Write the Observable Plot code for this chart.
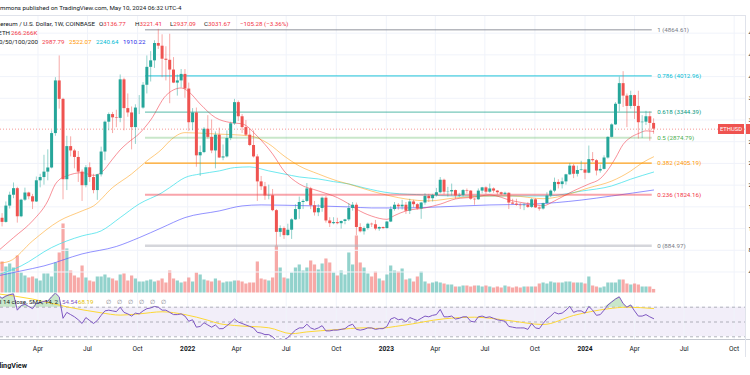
<!DOCTYPE html>
<html><head><meta charset="utf-8">
<script src="https://cdn.jsdelivr.net/npm/d3@7"></script>
<script src="https://cdn.jsdelivr.net/npm/@observablehq/plot@0.6"></script>
<style>
html,body{margin:0;padding:0;background:#fff;}
#wrap{position:relative;width:750px;height:375px;overflow:hidden;background:#fff;font-family:Roboto,"Liberation Sans",sans-serif;color:#131722;}
#wrap svg{position:absolute;left:0;background:transparent;}
.t{position:absolute;white-space:nowrap;font-size:6.2px;line-height:8px;height:8px;}
.ln{position:absolute;height:0;}
</style></head><body><div id="wrap"></div>
<script>
// ---------------- data ----------------
const firstWeek = "2021-01-18", afterLastWeek = "2024-05-07";
const opens = [1232,1390,1314,1614,1814,1935,1417,1723,1855,1786,1690,2080,2140,2240,2316,2950,3920,3580,2100,2710,
2630,2510,2240,1990,2320,2140,1900,2190,2610,3160,3300,3240,3230,3940,3410,3330,3060,3420,3420,3840,
4170,4290,4610,4560,4320,4300,4120,3880,3920,4040,3770,3150,3330,2540,2600,3030,2880,2630,2920,2500,
2520,2860,3130,3520,3260,3060,2920,2730,2520,2060,1970,1800,1805,1530,1130,1200,1070,1170,1360,1550,
1680,1700,1930,1620,1490,1570,1760,1340,1290,1310,1290,1330,1360,1570,1630,1220,1140,1200,1280,1270,
1190,1220,1200,1320,1550,1630,1600,1630,1520,1690,1640,1560,1670,1790,1750,1810,1860,2090,1870,1875,
1900,1800,1810,1900,1890,1740,1730,1890,1950,1870,1930,1890,1860,1830,1850,1670,1650,1630,1620,1630,
1590,1730,1580,1560,1660,1800,1890,2050,2010,2060,2190,2350,2200,2270,2280,2220,2470,2450,2260,2290,
2500,2880,3110,3490,3870,3640,3450,3650,3450,3150,3160,3260,3136.77];
const highs = [1470,1475,1690,1870,2040,1960,1740,1945,1870,1830,2150,2200,2550,2650,3000,3980,4380,3600,2900,2890,
2660,2620,2280,2360,2410,2200,2200,2700,3180,3330,3340,3380,4030,3970,3680,3440,3480,3650,3890,4380,
4460,4660,4870,4770,4550,4780,4350,4030,4130,4130,3880,3410,3420,2720,3060,3280,3200,2980,3050,2740,
3000,3160,3580,3550,3300,3190,3030,3000,2560,2160,2050,2000,1920,1550,1250,1230,1280,1380,1640,1780,
1730,2030,1960,1700,1640,1780,1790,1400,1400,1390,1340,1370,1660,1680,1670,1290,1230,1300,1300,1350,
1230,1230,1330,1600,1680,1660,1720,1680,1740,1720,1660,1680,1840,1830,1830,1940,2140,2110,1960,2020,
1910,1850,1920,1930,1900,1750,1930,1960,1970,2020,1950,1900,1870,1870,1860,1740,1740,1660,1660,1680,
1750,1750,1600,1670,1860,1910,2130,2100,2130,2200,2400,2380,2350,2440,2400,2720,2600,2470,2370,2540,
2890,3130,3520,3990,4090,3680,3730,3660,3730,3280,3360,3350,3221.41];
const lows = [1040,1230,1300,1560,1750,1300,1400,1700,1730,1550,1680,1950,2000,2080,2300,2900,3400,1730,1900,2520,
2300,2050,1700,1950,2050,1840,1720,2150,2450,3000,2950,3060,3150,3000,3250,2650,2750,3300,3400,3680,
3900,4150,4500,3980,3920,3500,3870,3640,3790,3600,2990,3000,2330,2160,2580,2850,2580,2300,2490,2450,
2500,2820,3100,3170,2950,2900,2710,2500,1700,1900,1720,1730,1510,880,1040,1000,1060,1000,1350,1370,
1550,1680,1550,1430,1420,1500,1300,1220,1270,1270,1190,1270,1330,1520,1070,1120,1080,1170,1220,1160,
1150,1180,1190,1310,1520,1540,1540,1460,1460,1580,1540,1370,1630,1680,1690,1780,1840,1820,1780,1800,
1740,1770,1780,1840,1720,1630,1720,1840,1830,1850,1850,1820,1810,1810,1550,1640,1610,1550,1530,1570,
1570,1570,1520,1540,1650,1770,1860,1930,1930,2000,2180,2120,2150,2260,2100,2210,2420,2170,2220,2280,
2480,2870,3100,3350,3430,3060,3400,3210,2850,2860,3100,2810,2937.09];
const closes = [1390,1314,1614,1814,1935,1417,1723,1855,1786,1690,2080,2140,2240,2316,2950,3920,3580,2100,2710,2630,
2510,2240,1990,2320,2140,1900,2190,2610,3160,3300,3240,3230,3940,3410,3330,3060,3420,3420,3840,4170,
4290,4610,4560,4320,4300,4120,3880,3920,4040,3770,3150,3330,2540,2600,3030,2880,2630,2920,2500,2520,
2860,3130,3520,3260,3060,2920,2730,2520,2060,1970,1800,1805,1530,1130,1200,1070,1170,1360,1550,1680,
1700,1930,1620,1490,1570,1760,1340,1290,1310,1290,1330,1360,1570,1630,1220,1140,1200,1280,1270,1190,
1220,1200,1320,1550,1630,1600,1630,1520,1690,1640,1560,1670,1790,1750,1810,1860,2090,1870,1875,1900,
1800,1810,1900,1890,1740,1730,1890,1950,1870,1930,1890,1860,1830,1850,1670,1650,1630,1620,1630,1590,
1730,1580,1560,1660,1800,1890,2050,2010,2060,2190,2350,2200,2270,2280,2220,2470,2450,2260,2290,2500,
2880,3110,3490,3870,3640,3450,3650,3450,3150,3160,3260,3136.95,3031.67];
// weekly volume, thousands of ETH
const volumes = [2250,2325,1950,2175,1875,2775,1500,1275,1125,1200,
1050,900,1425,1425,1200,2250,3000,5175,3300,1650,
1275,1125,2025,1125,900,825,1200,1200,1350,1125,
1050,900,1350,1425,900,1275,1050,825,825,900,
975,825,900,1050,750,1650,1050,900,750,825,
1125,825,1500,1350,975,900,825,1050,900,750,
825,825,900,900,825,675,750,750,2325,1050,
975,900,1125,3525,1875,1125,1050,1500,1875,2100,
1650,1875,2400,2100,1725,2175,2550,2250,1500,1275,
1650,1350,3000,2100,4275,2250,1875,1425,1200,1575,
1050,900,1350,2025,1650,1575,1800,975,1050,825,
1200,1575,825,675,750,825,750,675,600,600,
450,450,525,525,450,525,525,450,525,450,
375,450,375,525,450,375,450,375,450,450,
450,450,675,750,675,825,750,750,750,825,
825,750,750,750,675,1200,525,450,375,450,
750,750,750,975,975,675,600,675,600,450,
450,450,266.266];
const rsi = [86,82,85,87,88,66,72,74,71,68,
75,76,78,78,84,89,84,55,63,60,
57,53,48,56,52,48,52,59,65,66,
65,64,70,63,61,58,62,61,65,68,
69,71,70,66,66,63,60,60,61,58,
51,53,43,44,49,46,43,46,41,41,
45,49,54,50,48,46,44,42,36,35,
33,33,30,25,27,26,29,34,39,42,
42,47,42,40,42,45,38,38,39,39,
40,41,45,47,40,39,40,42,42,40,
41,41,44,54,56,53,54,50,56,54,
52,55,58,57,59,60,67,57,57,58,
54,55,57,57,51,50,57,58,56,57,
55,53,52,51,44,43,42,42,42,40,
48,42,41,48,54,58,63,61,62,66,
71,63,65,65,62,71,66,59,60,66,
73,77,81,84,75,70,73,65,58,58,
60,57,54.54];
const rsiSmaAt = [0,9,18,27,32,37,43,49,55,58,62,71,77,81,88,97,99,106,117,125,134,143,151,160,165,172];
const rsiSma = [88,81,70.5,62.4,59.3,61,63.8,60,52.4,47.8,45.3,42.2,34.2,36.6,39.4,42.2,41.2,45.3,54.3,56.5,52,46.6,58.8,67.8,70,68.19];
const ma20At = [0,4,9,13,15,16,18,22,25,27,30,32,34,37,40,44,48,50,53,57,61,64,68,72,75,79,84,89,92,94,98,102,104,107,112,116,120,125,129,135,140,143,146,151,155,158,160,162,164,166,168,170,172];
const ma20 = [790,1033,1341,1709,2019,2100,2170,2230,2180,2230,2480,2650,2780,2950,3200,3650,3790,3720,3494,3244,3152,3130,2900,2575,2262,2022,1894,1770,1654,1560,1430,1370,1440,1525,1580,1650,1745,1780,1820,1710,1650,1620,1710,1895,2020,2120,2280,2500,2750,2880,2950,3000,2987.79];
const ma50At = [0,3,9,16,22,25,30,35,39,43,45,49,57,66,71,75,79,84,89,92,98,103,107,113,120,129,135,143,148,155,161,166,169,172];
const ma50 = [560,600,972,1341,1525,1617,1955,2206,2446,2666,2814,2967,2943,2907,2760,2538,2354,2206,2077,2020,1890,1800,1745,1710,1765,1800,1800,1750,1800,1950,2075,2260,2410,2522.07];
const ma100At = [0,6,14,18,22,27,32,37,43,45,49,53,58,62,66,71,75,79,84,88,92,96,103,112,120,129,144,153,161,166,172];
const ma100 = [350,512,850,972,1065,1157,1402,1654,1862,1955,2139,2206,2262,2323,2336,2262,2206,2151,2114,2065,2022,1950,1855,1820,1800,1800,1800,1890,1985,2110,2240.64];
const ma200At = [0,6,12,22,31,37,43,49,58,64,69,75,84,92,98,107,116,129,140,153,161,172];
const ma200 = [330,420,512,733,870,1033,1218,1402,1525,1617,1636,1630,1617,1599,1580,1580,1600,1635,1650,1725,1800,1910.22];
const fibRatios = [0,0.236,0.382,0.5,0.618,0.786,1];
const fibPrices = [884.97,1824.16,2405.19,2874.79,3344.39,4012.96,4864.61];
const fibFrom = "2021-10-15T12:00Z", fibTo = "2024-05-03T12:00Z";
const priceTicks = [400,800,1200,1600,2000,2400,2800,3200,3600,4000,4400,4800];
const tickDates = ["2021-04-01","2021-07-01","2021-10-01","2022-01-01","2022-04-01","2022-07-01","2022-10-01","2023-01-01","2023-04-01","2023-07-01","2023-10-01","2024-01-01","2024-04-01","2024-07-01","2024-10-01"];
const tickLabels = ["Apr","Jul","Oct","2022","Apr","Jul","Oct","2023","Apr","Jul","Oct","2024","Apr","Jul","Oct"];
const xDomain = ["2021-01-22T03:00Z","2024-10-31T01:00Z"];

// ---------------- build ----------------
const UP = "#26a69a", DOWN = "#ef5350";
const weeks = d3.utcMonday.range(new Date(firstWeek), new Date(afterLastWeek));
const candles = weeks.map((date, i) => ({date, open: opens[i], high: highs[i], low: lows[i], close: closes[i], volume: volumes[i], rsi: rsi[i]}));
const col = d => d.close >= d.open ? UP : DOWN;
const ticks = tickDates.map((d, i) => ({date: new Date(d), label: tickLabels[i]}));
const series = (at, vals) => at.map((i, k) => ({date: weeks[i], value: vals[k]}));
const fib = fibRatios.map((r, i) => ({ratio: r, price: fibPrices[i]}));
const fibStroke = ["#b2b5be","#f23645","#ff9800","#4caf50","#089981","#00bcd4","#787b86"];
const fibOpacity = [0.55,0.45,0.9,0.3,0.55,0.7,0.55];
const fibWidth = [2.5,2,1.3,2,1.3,1.3,1.5];
const fibLabel = ["#787b86","#f23645","#ff9800","#4caf50","#089981","#00bcd4","#787b86"];

const wrap = document.getElementById("wrap");
const xScale = {type: "utc", domain: xDomain.map(d => new Date(d)), range: [0, 750], axis: null};
const base = {width: 750, marginLeft: 0, marginRight: 5, marginBottom: 0, style: {background: "transparent", fontFamily: "Roboto, sans-serif"}, color: {type: "identity"}};
function place(svg, top) { svg.style.top = top + "px"; wrap.appendChild(svg); return svg; }

// volume pane + vertical grid
const volPlot = Plot.plot({...base, height: 293, marginTop: 15,
  x: xScale, y: {domain: [0, 5000], range: [292.5, 225.8], axis: null},
  marks: [
    Plot.ruleX(ticks, {x: "date", stroke: "#f0f3fa"}),
    Plot.ruleX(candles, {x: "date", y1: 0, y2: "volume", stroke: col, strokeOpacity: 0.5, strokeWidth: 3.2})
  ]});
place(volPlot, 0);

// price pane
const fmt = d3.format(".2f");
const pricePlot = Plot.plot({...base, height: 293, marginTop: 15,
  x: xScale, y: {domain: [0, 5000], range: [293.2, 21.8], axis: null},
  marks: [
    Plot.ruleY(priceTicks, {stroke: "#f0f3fa"}),
    Plot.line(series(ma200At, ma200), {x: "date", y: "value", stroke: "#4a4aff", strokeOpacity: 0.6, strokeWidth: 1, curve: "monotone-x"}),
    Plot.line(series(ma100At, ma100), {x: "date", y: "value", stroke: "#3fe0ea", strokeOpacity: 0.75, strokeWidth: 1, curve: "monotone-x"}),
    Plot.line(series(ma50At, ma50), {x: "date", y: "value", stroke: "#ff9800", strokeOpacity: 0.5, strokeWidth: 1, curve: "monotone-x"}),
    Plot.line(series(ma20At, ma20), {x: "date", y: "value", stroke: "#f23645", strokeOpacity: 0.55, strokeWidth: 1, curve: "monotone-x"}),
    ...fib.map((f, i) => Plot.ruleY([f], {y: "price", x1: new Date(fibFrom), x2: new Date(fibTo), stroke: fibStroke[i], strokeOpacity: fibOpacity[i], strokeWidth: fibWidth[i]})),
    ...fib.map((f, i) => Plot.text([f], {x: new Date(fibTo), y: "price", text: d => `${d.ratio} (${fmt(d.price)})`, textAnchor: "start", dx: 5, fill: fibLabel[i], fontSize: 6.2})),
    Plot.ruleY([candles[candles.length - 1]], {y: "close", stroke: DOWN, strokeOpacity: 0.6, strokeDasharray: "1,2"}),
    Plot.ruleX(candles, {x: "date", y1: "low", y2: "high", stroke: col, strokeOpacity: 0.55, strokeWidth: 0.9}),
    Plot.ruleX(candles, {x: "date", y1: "open", y2: "close", stroke: col, strokeWidth: 3}),
    Plot.text(priceTicks, {y: d => d, text: d => fmt(d), frameAnchor: "right", textAnchor: "start", dx: 3, fill: "#131722", fontSize: 6.2})
  ]});
place(pricePlot, 0);

// RSI pane
const rsiPlot = Plot.plot({...base, height: 47, marginTop: 0,
  x: xScale, y: {domain: [30, 70], range: [43.3, 13.7], axis: null},
  marks: [
    Plot.rect([0], {y1: 30, y2: 70, fill: "#7e57c2", fillOpacity: 0.1}),
    Plot.ruleX(ticks, {x: "date", stroke: "#f0f3fa"}),
    Plot.ruleY([30, 50, 70], {stroke: "#787b86", strokeOpacity: 0.55, strokeDasharray: "3,3"}),
    Plot.areaY(candles, {x: "date", y1: 70, y2: d => Math.max(70, d.rsi), fill: "#4caf50", fillOpacity: 0.3}),
    Plot.line(series(rsiSmaAt, rsiSma), {x: "date", y: "value", stroke: "#fdd835", strokeWidth: 1, curve: "monotone-x"}),
    Plot.line(candles, {x: "date", y: "rsi", stroke: "#7e57c2", strokeWidth: 1})
  ]});
place(rsiPlot, 293);

// time axis
const axisPlot = Plot.plot({...base, height: 18, marginTop: 0,
  x: xScale, y: {axis: null},
  marks: [
    Plot.text(ticks.filter(t => t.label.length < 4), {x: "date", text: "label", frameAnchor: "middle", fontSize: 6.6, fill: "#131722"}),
    Plot.text(ticks.filter(t => t.label.length === 4), {x: "date", text: "label", frameAnchor: "middle", fontSize: 6.6, fontWeight: "bold", fill: "#131722"})
  ]});
place(axisPlot, 339);

// ---------------- decorations & texts ----------------
function line(x, y, w, h, css) { const d = document.createElement("div"); d.className = "ln"; Object.assign(d.style, {left: x + "px", top: y + "px", width: w + "px", height: h + "px"}, css); wrap.appendChild(d); }
line(0, 15, 745, 0, {borderTop: "1px solid #e0e3eb"});
line(0, 339, 750, 0, {borderTop: "1px solid #c4c7cf"});
line(745, 15, 0, 342, {borderLeft: "1px solid #e0e3eb"});
function txt(x, yc, html, css = {}, alignRight = false) {
  const d = document.createElement("div"); d.className = "t";
  if (alignRight) d.style.right = (750 - x) + "px"; else d.style.left = x + "px";
  d.style.top = (yc - 4) + "px"; d.innerHTML = html; Object.assign(d.style, css); wrap.appendChild(d); return d;
}
const last = candles[candles.length - 1], prev = candles[candles.length - 2];
const red = s => `<span style="color:#f23645">${s}</span>`;
txt(0, 7.5, "mmons published on TradingView.com, May 10, 2024 06:32 UTC-4", {color: "#131722"});
txt(95, 24, "Ethereum / U.S. Dollar, 1W, COINBASE", {}, true);
txt(99, 24, "O" + red(fmt(last.open)));
txt(135, 24, "H" + red(fmt(last.high)));
txt(170, 24, "L" + red(fmt(last.low)));
txt(204, 24, "C" + red(fmt(last.close)));
const chg = last.close - prev.close;
txt(240, 24, red(`${fmt(chg).replace("-", "−")} (${fmt(chg / prev.close * 100).replace("-", "−")}%)`));
txt(10, 33, "Vol · ETH", {}, true);
txt(11, 33, red(d3.format(".3f")(last.volume) + "K"));
txt(38, 42, "MA 20/50/100/200", {}, true);
txt(42, 42, fmt(ma20[ma20.length - 1]), {color: "#f23645"});
txt(69, 42, fmt(ma50[ma50.length - 1]), {color: "#ff9800"});
txt(96, 42, fmt(ma100[ma100.length - 1]), {color: "#00bcd4"});
txt(123, 42, fmt(ma200[ma200.length - 1]), {color: "#2a2ae8"});
txt(58, 301.5, "RSI 14 close, SMA, 14, 2", {color: "#131722"}, true);
txt(62, 301.5, fmt(rsi[rsi.length - 1]), {color: "#7e57c2"});
txt(78, 301.5, fmt(rsiSma[rsiSma.length - 1]), {color: "#e6c200"});
[106, 117, 128, 139, 150, 161].forEach(x => txt(x, 301.5, "∅", {color: "#787b86"}));
txt(27, 366, "TradingView", {fontWeight: "bold", fontSize: "7.2px"}, true);
// last price tags
const py = pricePlot.scale("y").apply(last.close);
txt(718, py, "ETHUSD", {background: DOWN, color: "#fff", padding: "1px 2px", lineHeight: "8px", height: "8px", top: (py - 5) + "px", fontSize: "5.8px"});
line(746, py - 5, 6, 10, {background: DOWN});
</script></body></html>
